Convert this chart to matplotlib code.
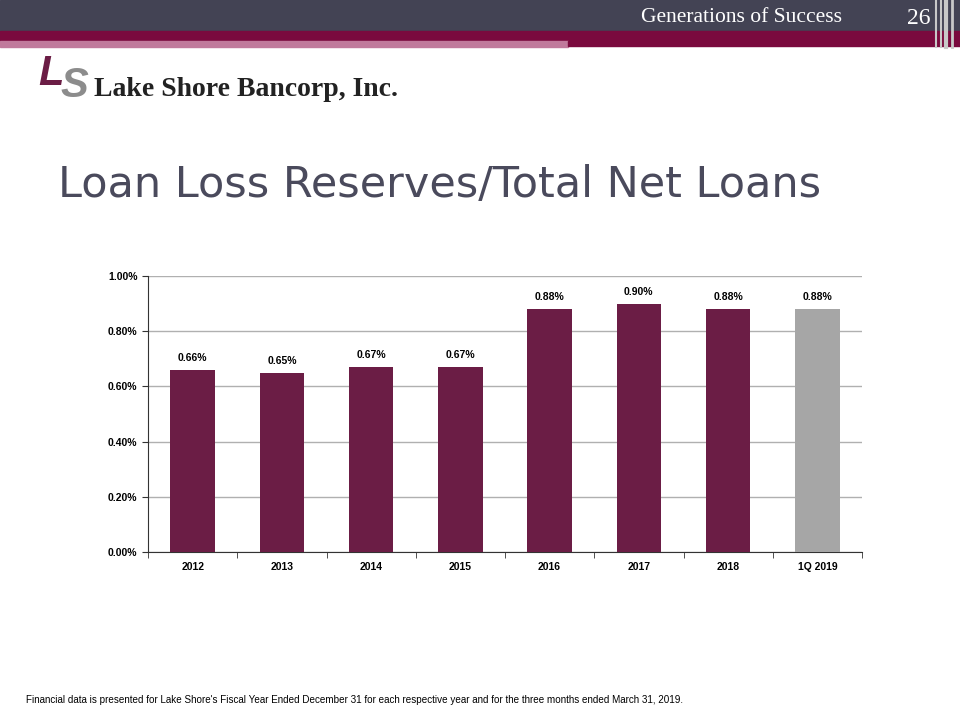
import numpy as np
import matplotlib.pyplot as plt
from matplotlib.patches import Rectangle

categories = ["2012", "2013", "2014", "2015", "2016", "2017", "2018", "1Q 2019"]
values = [0.66, 0.65, 0.67, 0.67, 0.88, 0.90, 0.88, 0.88]
labels = ["0.66%", "0.65%", "0.67%", "0.67%", "0.88%", "0.90%", "0.88%", "0.88%"]
colors = ["#6b1d45"] * 7 + ["#a6a6a6"]

fig = plt.figure(figsize=(9.6, 7.2), dpi=100)

# header bands (figure pixel coords via a full-figure axes)
bg = fig.add_axes([0, 0, 1, 1], zorder=-1)
bg.set_xlim(0, 960)
bg.set_ylim(720, 0)
bg.axis("off")
bg.add_patch(Rectangle((0, 0), 960, 31, color="#434354"))
bg.add_patch(Rectangle((0, 31), 960, 12, color="#7a0a3e"))
bg.add_patch(Rectangle((0, 41), 568, 6, color="#c07a9c"))
bg.add_patch(Rectangle((568, 41), 392, 5, color="#7a0a3e"))
for xv, w in [(936, 1.5), (941, 1.5), (946, 3), (952, 2)]:
    bg.plot([xv, xv], [0, 47], color="#c8c8c8", lw=w)
bg.text(842, 17, "Generations of Success", color="white", fontsize=15.5,
        family="Liberation Serif", ha="right", va="center")
bg.text(930, 18, "26", color="white", fontsize=17,
        family="Liberation Serif", ha="right", va="center")

# logo
bg.text(38, 74, "L", color="#6b1d45", fontsize=30, fontweight="bold",
        style="italic", family="Liberation Sans", ha="left", va="center")
bg.text(60, 86, "S", color="#8c8c8c", fontsize=30, fontweight="bold",
        style="italic", family="Liberation Sans", ha="left", va="center")
bg.text(94, 89, "Lake Shore Bancorp, Inc.", color="#222222", fontsize=20,
        fontweight="bold", family="Liberation Serif", ha="left", va="center")

bg.text(58, 185, "Loan Loss Reserves/Total Net Loans", color="#4a4a5c",
        fontsize=31, family="DejaVu Sans", ha="left", va="center")

bg.text(26, 700, "Financial data is presented for Lake Shore's Fiscal Year Ended December 31 "
        "for each respective year and for the three months ended March 31, 2019.",
        color="black", fontsize=7.1, family="Liberation Sans", ha="left", va="center")

ax = fig.add_axes([148 / 960, 168 / 720, 714 / 960, 276 / 720])
x = np.arange(len(categories))
ax.bar(x, values, width=0.5, color=colors, zorder=3)
for xi, v, lab in zip(x, values, labels):
    ax.text(xi, v + 0.025, lab, ha="center", va="bottom", fontsize=7.5,
            fontweight="bold", family="Liberation Sans")

ax.set_xlim(-0.5, len(categories) - 0.5)
ax.set_ylim(0, 1.0)
ax.set_yticks([0, 0.2, 0.4, 0.6, 0.8, 1.0])
ax.set_yticklabels(["0.00%", "0.20%", "0.40%", "0.60%", "0.80%", "1.00%"],
                   fontsize=7.5, fontweight="bold", family="Liberation Sans")
ax.yaxis.grid(True, color="#b0b0b0", lw=1, zorder=0)
ax.set_xticks(x)
ax.set_xticklabels(categories, fontsize=7.5, fontweight="bold", family="Liberation Sans")
ax.tick_params(axis="x", length=0, pad=7)
ax.set_xticks(np.arange(len(categories) + 1) - 0.5, minor=True)
ax.tick_params(axis="x", which="minor", length=4, direction="out", color="#333333")
ax.tick_params(axis="y", length=4, direction="out", color="#333333")
for s in ["top", "right"]:
    ax.spines[s].set_visible(False)
ax.spines["left"].set_color("#333333")
ax.spines["bottom"].set_color("#333333")

plt.savefig("out.png", dpi=100)
